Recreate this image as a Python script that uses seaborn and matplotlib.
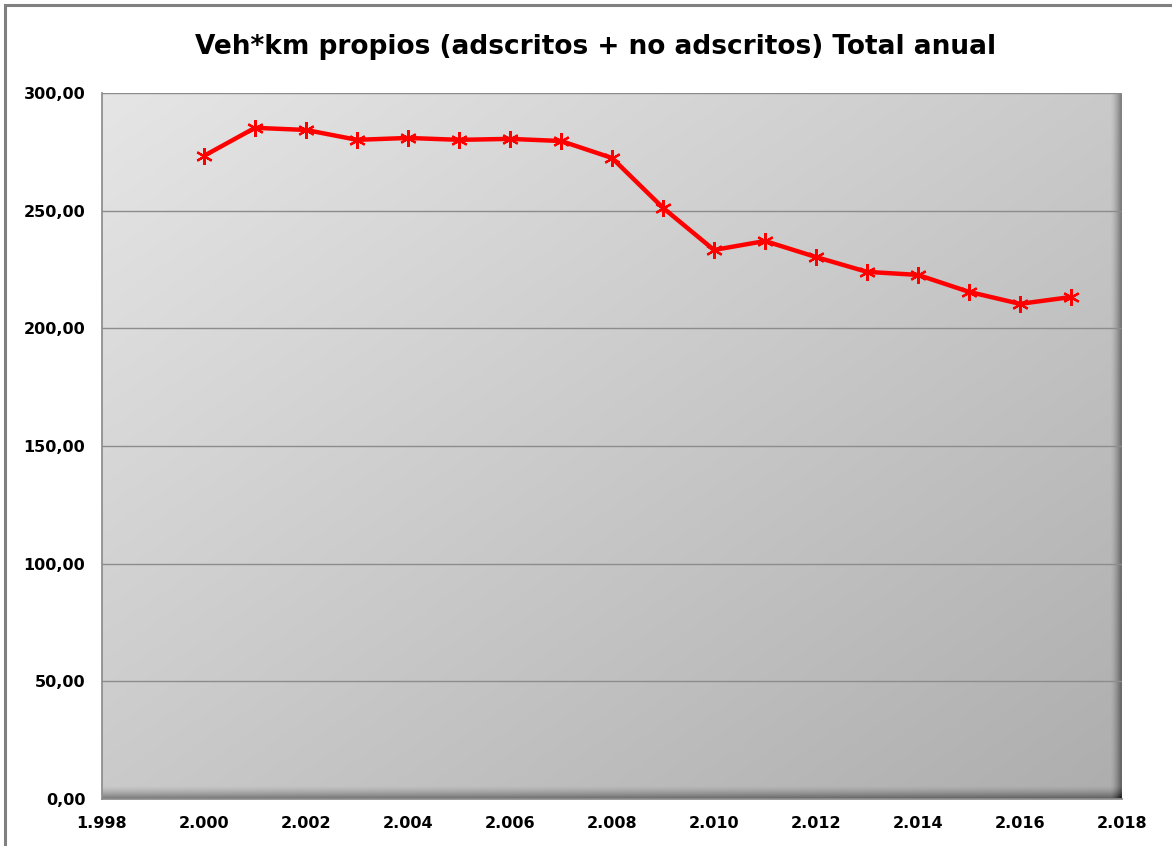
import numpy as np
import pandas as pd
import matplotlib
matplotlib.use("Agg")
import matplotlib.pyplot as plt
import seaborn as sns
from matplotlib.ticker import FuncFormatter, MultipleLocator
from matplotlib.patches import Rectangle

years = [2000, 2001, 2002, 2003, 2004, 2005, 2006, 2007, 2008,
         2009, 2010, 2011, 2012, 2013, 2014, 2015, 2016, 2017]
vehkm = [273.3, 285.2, 284.3, 280.1, 280.9, 280.1, 280.5, 279.6, 272.4,
         251.2, 233.3, 237.1, 230.3, 224.0, 222.7, 215.5, 210.4, 213.3]
title = "Veh*km propios (adscritos + no adscritos) Total anual"

df = pd.DataFrame({"year": years, "value": vehkm})

sns.set_theme(style="white")
plt.rcParams['font.family'] = ['DejaVu Sans']

fig = plt.figure(figsize=(11.72, 8.46), dpi=100)
ax = fig.add_axes([102/1172, 1 - 799/846, (1122-102)/1172, (799-93)/846])

# gradient background (plot area); row 0 = top
nx, ny = 400, 400
gx, gy = np.meshgrid(np.linspace(0, 1, nx), np.linspace(0, 1, ny))
t = (gx + gy) / 2.0
grad = 0.90 - 0.22 * t
edge_r = np.clip((gx - 0.99) / 0.01, 0, 1)
edge_b = np.clip((gy - 0.982) / 0.018, 0, 1)
grad = grad - 0.28 * edge_r ** 1.5 - 0.30 * edge_b ** 1.5
ax.imshow(np.dstack([grad, grad, grad]), extent=[0, 1, 0, 1], transform=ax.transAxes,
          aspect='auto', zorder=0, interpolation='bilinear', origin='upper')

sns.lineplot(data=df, x="year", y="value", ax=ax, color="#ff0000", linewidth=3.2,
             marker=(6, 2, 0), markersize=12, markeredgewidth=1.6,
             markeredgecolor="#ff0000", zorder=5)

ax.set_xlim(1998, 2018)
ax.set_ylim(0, 300)
ax.xaxis.set_major_locator(MultipleLocator(2))
ax.yaxis.set_major_locator(MultipleLocator(50))
ax.xaxis.set_major_formatter(FuncFormatter(lambda v, p: f"{int(v)//1000}.{int(v)%1000:03d}"))
ax.yaxis.set_major_formatter(FuncFormatter(lambda v, p: f"{v:.2f}".replace(".", ",")))
ax.grid(axis='y', color="#8c8c8c", linewidth=1.0, zorder=1)
for line in ax.get_ygridlines():
    line.set_zorder(1)
ax.set_xlabel("")
ax.set_ylabel("")
for s in ["top", "right"]:
    ax.spines[s].set_visible(False)
ax.spines["left"].set_color("#8c8c8c")
ax.spines["bottom"].set_color("#8c8c8c")
ax.tick_params(axis='both', direction='out', length=6, width=1, color="#8c8c8c",
               labelsize=11.5, labelcolor="black")
for lbl in ax.get_xticklabels() + ax.get_yticklabels():
    lbl.set_fontweight("bold")
ax.tick_params(axis='x', pad=6)
ax.tick_params(axis='y', pad=6)

fig.text(596/1172, 1 - 47/846, title, ha="center", va="center",
         fontsize=19, fontweight="bold", color="black")

# outer chart border
fig.patches.append(Rectangle((5/1172, -0.01), 1.2, 1 - 5/846 + 0.01, transform=fig.transFigure,
                             fill=False, edgecolor="#808080", linewidth=2.2, zorder=10))

fig.savefig("out.png", dpi=100, facecolor="white")
